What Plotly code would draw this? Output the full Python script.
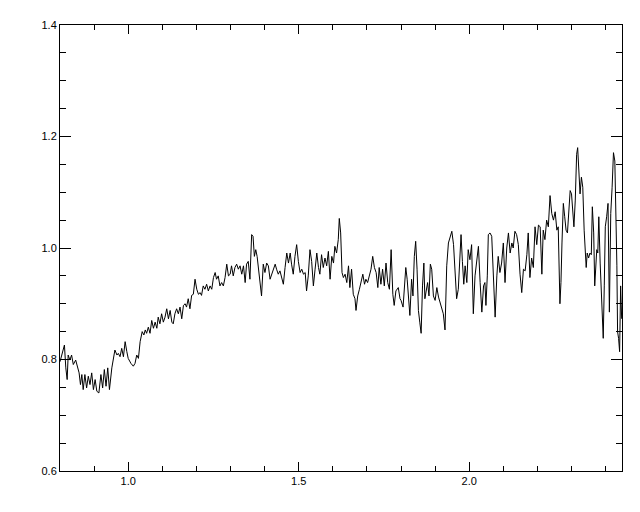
import numpy as np
import plotly.graph_objects as go

# wavelength / flux, in segments
w1 = [0.800,0.807,0.813,0.817,0.821,0.824,0.829,0.834,0.839,0.846,0.852,0.856,0.860,0.864,0.868,0.873,0.878,0.883,0.888,0.893,0.898,0.903,0.908,0.914,0.920,0.925,0.930,0.935,0.940,0.945,0.952,0.956,0.961,0.967,0.971,0.976,0.981,0.986,0.991,0.996,1.000,1.008,1.015,1.020,1.025,1.030,1.035,1.041,1.046]
f1 = [0.796,0.814,0.826,0.785,0.764,0.808,0.799,0.808,0.791,0.799,0.782,0.776,0.755,0.773,0.746,0.773,0.749,0.770,0.755,0.776,0.746,0.764,0.743,0.740,0.773,0.749,0.782,0.752,0.785,0.746,0.785,0.802,0.817,0.808,0.811,0.805,0.820,0.805,0.832,0.814,0.802,0.793,0.788,0.793,0.808,0.802,0.832,0.850,0.844]

w2 = [1.050,1.054,1.059,1.064,1.069,1.074,1.079,1.084,1.088,1.093,1.098,1.103,1.108,1.113,1.118,1.123,1.128,1.132,1.137,1.142,1.147,1.152,1.157,1.162,1.167,1.171,1.176,1.181,1.186,1.191,1.196,1.201,1.206,1.211,1.215,1.220,1.225,1.230,1.235,1.240,1.245,1.250,1.255,1.259,1.264,1.269,1.274,1.279,1.284,1.289,1.294,1.299]
f2 = [0.853,0.847,0.858,0.847,0.870,0.856,0.867,0.856,0.876,0.864,0.882,0.867,0.876,0.891,0.873,0.888,0.867,0.864,0.882,0.891,0.882,0.894,0.873,0.897,0.900,0.894,0.909,0.891,0.915,0.917,0.944,0.926,0.917,0.920,0.915,0.932,0.926,0.935,0.923,0.932,0.926,0.947,0.956,0.944,0.950,0.932,0.938,0.932,0.947,0.971,0.950,0.953]

w3 = [1.303,1.308,1.313,1.318,1.323,1.328,1.333,1.338,1.343,1.347,1.352,1.357,1.362,1.366,1.370,1.374,1.378,1.382,1.387,1.391,1.396,1.401,1.406,1.411,1.416,1.421,1.426,1.431,1.435,1.440,1.445,1.450,1.455,1.460,1.465,1.470,1.475,1.479,1.484,1.489,1.494,1.499,1.504,1.509,1.514,1.519,1.523,1.528,1.533,1.538,1.543,1.548]
f3 = [0.968,0.950,0.965,0.971,0.962,0.968,0.953,0.968,0.938,0.971,0.976,0.944,1.024,1.021,0.985,0.997,0.985,0.962,0.938,0.914,0.971,0.956,0.973,0.968,0.944,0.953,0.962,0.971,0.962,0.953,0.959,0.944,0.935,0.965,0.991,0.973,0.991,0.971,0.953,0.985,1.006,0.976,0.956,0.962,0.953,0.956,0.923,0.950,0.997,0.976,0.932,0.962]

w4 = [1.553,1.558,1.562,1.567,1.572,1.577,1.582,1.587,1.592,1.597,1.602,1.606,1.611,1.616,1.619,1.623,1.627,1.631,1.636,1.641,1.646,1.650,1.655,1.660,1.665,1.668,1.673,1.678,1.683,1.688,1.693,1.697,1.702,1.707,1.712,1.717,1.722,1.727,1.732,1.736,1.741,1.746,1.751,1.756,1.761,1.766,1.771,1.776,1.780,1.785,1.792,1.797]
f4 = [0.991,0.965,0.953,0.988,0.965,0.982,0.968,0.994,0.944,0.985,0.973,1.003,0.991,1.015,1.053,1.027,0.956,0.947,0.953,0.938,0.968,0.929,0.962,0.917,0.909,0.888,0.914,0.926,0.938,0.953,0.935,0.944,0.938,0.953,0.962,0.985,0.965,0.956,0.929,0.965,0.935,0.962,0.932,0.973,0.938,0.926,0.997,0.917,0.897,0.923,0.929,0.909]

w5 = [1.800,1.806,1.810,1.814,1.818,1.822,1.826,1.831,1.835,1.839,1.843,1.847,1.851,1.855,1.859,1.863,1.867,1.870,1.874,1.878,1.882,1.886,1.890,1.895,1.900,1.905,1.910,1.914,1.919,1.924,1.929,1.934,1.939,1.944,1.949,1.954,1.958,1.963,1.968,1.973,1.976,1.980,1.984,1.988,1.993,1.997,2.002,2.007,2.012,2.017,2.022,2.027,2.032,2.037,2.042,2.046]
f5 = [0.906,0.894,0.932,0.965,0.944,0.909,0.879,0.944,0.914,0.985,1.012,0.962,0.888,0.867,0.847,0.932,0.973,0.909,0.926,0.938,0.914,0.971,0.962,0.914,0.906,0.929,0.912,0.903,0.891,0.882,0.853,0.968,1.009,1.018,1.030,1.006,0.962,0.909,0.926,0.997,1.024,0.976,0.935,0.968,0.938,0.997,0.979,1.006,0.882,0.950,0.979,1.003,0.938,0.885,0.932,0.938]

w6 = [2.049,2.053,2.056,2.061,2.066,2.071,2.076,2.081,2.085,2.090,2.095,2.100,2.105,2.110,2.115,2.120,2.125,2.129,2.134,2.139,2.144,2.149,2.154,2.159,2.164,2.169,2.173,2.178,2.183,2.188,2.193,2.198,2.203,2.208,2.213,2.217,2.222,2.227,2.232,2.237,2.242,2.247,2.252,2.257,2.261]
f6 = [0.897,0.950,1.024,1.027,1.021,0.944,0.876,0.950,0.985,0.956,0.973,1.009,0.938,1.000,1.027,0.991,1.009,1.000,1.030,1.024,1.006,0.953,0.920,0.962,0.959,0.988,1.027,0.947,0.982,0.965,1.038,1.006,1.041,1.038,0.953,1.032,1.015,1.050,1.038,1.094,1.062,1.050,1.065,1.032,1.038]

w7 = [2.266,2.269,2.272,2.276,2.280,2.284,2.288,2.292,2.296,2.300,2.303,2.307,2.311,2.315,2.318,2.321,2.325,2.329,2.333,2.337,2.340,2.343,2.346,2.350,2.354,2.358,2.361,2.365,2.368,2.371,2.374,2.377,2.380,2.384,2.387,2.390,2.393,2.396,2.399,2.403,2.407,2.411,2.415,2.419,2.423,2.427,2.430,2.433,2.435,2.438,2.441,2.444,2.447]
f7 = [0.900,0.938,1.009,1.080,1.056,1.032,1.027,1.062,1.103,1.097,1.062,1.038,1.086,1.168,1.180,1.150,1.097,1.127,1.109,1.032,0.985,0.965,0.991,0.982,0.991,0.988,1.074,1.027,0.932,0.979,0.997,0.991,1.056,0.973,0.920,0.861,0.838,0.932,1.038,1.056,1.080,0.885,1.062,1.109,1.171,1.156,1.086,0.968,0.850,0.838,0.814,0.932,0.873]

wave = w1 + w2 + w3 + w4 + w5 + w6 + w7
flux = f1 + f2 + f3 + f4 + f5 + f6 + f7

x_range = [0.8, 2.448]
y_range = [0.6, 1.4]

fig = go.Figure(go.Scatter(x=wave, y=flux, mode="lines",
                           line=dict(color="black", width=1),
                           hoverinfo="skip"))

font = dict(family="Liberation Sans, Arial, sans-serif", size=11, color="black")

# the page body adds an 8px offset, so margins are shifted to compensate
fig.update_layout(
    width=640, height=512,
    margin=dict(l=52, r=26, t=11, b=49),
    paper_bgcolor="white", plot_bgcolor="white",
    showlegend=False,
    font=font,
)
fig.update_xaxes(
    range=x_range, showgrid=False, zeroline=False,
    showline=True, linecolor="black", linewidth=1, mirror="allticks",
    ticks="inside", ticklen=9, tickwidth=1, tickcolor="black",
    tick0=0, dtick=0.5, tickformat=".1f", tickfont=font,
    minor=dict(ticks="inside", ticklen=5, dtick=0.1, tickcolor="black", tickwidth=1, showgrid=False),
)
fig.update_yaxes(
    range=y_range, showgrid=False, zeroline=False,
    showline=True, linecolor="black", linewidth=1, mirror="allticks",
    ticks="inside", ticklen=11, tickwidth=1, tickcolor="black",
    tick0=0, dtick=0.2, tickformat=".1f", tickfont=font,
    minor=dict(ticks="inside", ticklen=6, dtick=0.05, tickcolor="black", tickwidth=1, showgrid=False),
)

fig.write_html("out.html")
